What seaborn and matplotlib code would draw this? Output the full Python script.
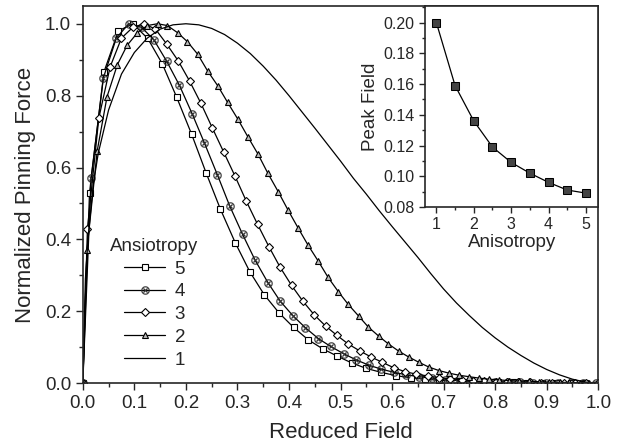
import matplotlib
matplotlib.use("Agg")
import matplotlib.pyplot as plt
import seaborn as sns
from matplotlib.ticker import MultipleLocator, FormatStrFormatter

# Data
# Anisotropy 5 (open squares)
x5 = [0.0, 0.013, 0.041, 0.069, 0.097, 0.126, 0.154, 0.182, 0.211, 0.239, 0.267, 0.296,
      0.324, 0.352, 0.381, 0.409, 0.437, 0.466, 0.494, 0.522, 0.550, 0.579, 0.607, 0.636,
      0.664, 0.692, 0.720, 0.749, 0.777, 0.805, 0.834, 0.862, 0.890, 0.919, 0.947, 0.975]
y5 = [0.0, 0.53, 0.866, 0.98, 1.0, 0.959, 0.889, 0.796, 0.693, 0.586, 0.484, 0.390,
      0.310, 0.246, 0.195, 0.155, 0.121, 0.095, 0.075, 0.056, 0.041, 0.030, 0.021, 0.015,
      0.011, 0.008, 0.006, 0.004, 0.003, 0.002, 0.002, 0.001, 0.001, 0.001, 0.0, 0.0]

# Anisotropy 4 (circled cross)
x4 = [0.0, 0.016, 0.040, 0.065, 0.089, 0.114, 0.138, 0.163, 0.187, 0.212, 0.236, 0.261,
      0.285, 0.310, 0.334, 0.359, 0.383, 0.408, 0.432, 0.457, 0.481, 0.506, 0.530, 0.555,
      0.579, 0.604, 0.628, 0.653, 0.677, 0.702, 0.726, 0.751, 0.775, 0.800, 0.824, 0.849,
      0.873, 0.898, 0.922, 0.947, 0.971, 0.996]
y4 = [0.0, 0.57, 0.85, 0.96, 1.0, 0.99, 0.955, 0.895, 0.83, 0.75, 0.668, 0.58,
      0.493, 0.414, 0.343, 0.280, 0.228, 0.187, 0.154, 0.124, 0.102, 0.082, 0.065, 0.050,
      0.039, 0.030, 0.023, 0.018, 0.013, 0.010, 0.007, 0.005, 0.004, 0.003, 0.002, 0.002,
      0.001, 0.001, 0.001, 0.0, 0.0, 0.0]

# Anisotropy 3 (open diamonds)
x3 = [0.0, 0.009, 0.031, 0.053, 0.075, 0.097, 0.119, 0.141, 0.163, 0.185, 0.207, 0.229,
      0.251, 0.273, 0.295, 0.317, 0.339, 0.361, 0.383, 0.405, 0.427, 0.449, 0.471, 0.493,
      0.515, 0.537, 0.559, 0.581, 0.603, 0.625, 0.647, 0.669, 0.691, 0.713, 0.735, 0.757,
      0.779, 0.801, 0.823, 0.845, 0.867, 0.889, 0.911, 0.933, 0.955, 0.977, 0.999]
y3 = [0.0, 0.43, 0.737, 0.88, 0.96, 0.99, 1.0, 0.985, 0.943, 0.897, 0.841, 0.779,
      0.711, 0.644, 0.577, 0.507, 0.442, 0.380, 0.322, 0.272, 0.228, 0.190, 0.159, 0.133,
      0.109, 0.090, 0.073, 0.058, 0.043, 0.032, 0.025, 0.020, 0.015, 0.012, 0.009, 0.007,
      0.005, 0.004, 0.003, 0.002, 0.002, 0.001, 0.001, 0.001, 0.0, 0.0, 0.0]

# Anisotropy 2 (triangles)
x2 = [0.0, 0.008, 0.028, 0.047, 0.067, 0.086, 0.106, 0.125, 0.145, 0.164, 0.184, 0.203,
      0.223, 0.242, 0.262, 0.281, 0.301, 0.320, 0.340, 0.359, 0.379, 0.398, 0.418, 0.437,
      0.457, 0.476, 0.496, 0.515, 0.535, 0.554, 0.574, 0.593, 0.613, 0.632, 0.652, 0.671,
      0.691, 0.710, 0.730, 0.749, 0.769, 0.788, 0.808, 0.827, 0.847, 0.866, 0.886, 0.905,
      0.925, 0.944, 0.964, 0.983]
y2 = [0.0, 0.37, 0.647, 0.797, 0.886, 0.94, 0.975, 0.995, 1.0, 0.995, 0.975, 0.95,
      0.915, 0.869, 0.827, 0.781, 0.734, 0.686, 0.637, 0.584, 0.533, 0.482, 0.431, 0.384,
      0.339, 0.294, 0.254, 0.219, 0.187, 0.156, 0.131, 0.109, 0.089, 0.073, 0.058, 0.045,
      0.035, 0.028, 0.022, 0.018, 0.014, 0.011, 0.009, 0.007, 0.006, 0.005, 0.004, 0.003,
      0.002, 0.002, 0.001, 0.001]

# Anisotropy 1 (plain line)
x1 = [0.0, 0.005, 0.01, 0.02, 0.03, 0.05, 0.075, 0.1, 0.125, 0.15, 0.175, 0.2,
      0.225, 0.25, 0.275, 0.3, 0.325, 0.35, 0.375, 0.4, 0.425, 0.45, 0.475, 0.5,
      0.525, 0.55, 0.575, 0.6, 0.625, 0.65, 0.675, 0.7, 0.725, 0.75, 0.775, 0.8,
      0.825, 0.85, 0.875, 0.9, 0.925, 0.95, 0.975, 1.0]
y1 = [0.0, 0.29, 0.40, 0.55, 0.64, 0.76, 0.86, 0.92, 0.96, 0.985, 0.997, 1.0,
      0.997, 0.987, 0.97, 0.946, 0.917, 0.882, 0.843, 0.80, 0.755, 0.71, 0.664, 0.618,
      0.57, 0.526, 0.48, 0.436, 0.393, 0.35, 0.305, 0.262, 0.223, 0.188, 0.155, 0.126,
      0.10, 0.077, 0.056, 0.038, 0.023, 0.011, 0.003, 0.0]

# Inset: peak field vs anisotropy
anisotropy = [1, 1.5, 2, 2.5, 3, 3.5, 4, 4.5, 5]
peak_field = [0.200, 0.159, 0.136, 0.119, 0.109, 0.102, 0.096, 0.091, 0.089]

sns.set_style("ticks")
plt.rcParams["font.family"] = ["Liberation Sans", "DejaVu Sans"]
plt.rcParams["xtick.direction"] = "out"
plt.rcParams["ytick.direction"] = "out"

fig = plt.figure(figsize=(6.18, 4.45), dpi=100)
ax = fig.add_axes([0.134, 0.139, 0.834, 0.848])

series = [
    ("5", x5, y5, dict(marker="s", markersize=5, markerfacecolor="white", markeredgewidth=0.8)),
    ("4", x4, y4, dict(marker="$\\otimes$", markersize=6, markerfacecolor="#333333",
                       markeredgewidth=0.1)),
    ("3", x3, y3, dict(marker="D", markersize=4.5, markerfacecolor="white", markeredgewidth=0.8)),
    ("2", x2, y2, dict(marker="^", markersize=4.5, markerfacecolor="#bbbbbb", markeredgewidth=0.8)),
    ("1", x1, y1, dict(marker=None)),
]
for name, xs, ys, mk in series:
    sns.lineplot(x=xs, y=ys, ax=ax, color="black", linewidth=0.9,
                 markeredgecolor="black", estimator=None, sort=False,
                 label=name, **mk)

ax.set_xlim(0, 1.0)
ax.set_ylim(0, 1.05)
ax.xaxis.set_major_locator(MultipleLocator(0.1))
ax.xaxis.set_minor_locator(MultipleLocator(0.05))
ax.yaxis.set_major_locator(MultipleLocator(0.2))
ax.yaxis.set_minor_locator(MultipleLocator(0.1))
ax.tick_params(which="major", length=5, width=1, labelsize=13.5)
ax.tick_params(which="minor", length=3, width=1)
ax.xaxis.set_major_formatter(FormatStrFormatter("%.1f"))
ax.yaxis.set_major_formatter(FormatStrFormatter("%.1f"))
for s in ax.spines.values():
    s.set_linewidth(1.2)
ax.set_xlabel("Reduced Field", fontsize=16, labelpad=7)
ax.set_ylabel("Normalized Pinning Force", fontsize=16, labelpad=6)

leg = ax.legend(title="Ansiotropy", loc="upper left", bbox_to_anchor=(0.028, 0.42),
                frameon=False, fontsize=13.5, title_fontsize=13.5, handlelength=2.2,
                handletextpad=0.5, labelspacing=0.3, borderpad=0.2)

# Inset
axin = fig.add_axes([0.688, 0.535, 0.280, 0.452])
sns.lineplot(x=anisotropy, y=peak_field, ax=axin, color="black", linewidth=0.9,
             marker="s", markersize=6, markerfacecolor="#444444",
             markeredgecolor="black", estimator=None, sort=False)
axin.set_xlim(0.7, 5.33)
axin.set_ylim(0.08, 0.211)
axin.xaxis.set_major_locator(MultipleLocator(1))
axin.xaxis.set_minor_locator(MultipleLocator(0.5))
axin.yaxis.set_major_locator(MultipleLocator(0.02))
axin.yaxis.set_minor_locator(MultipleLocator(0.01))
axin.yaxis.set_major_formatter(FormatStrFormatter("%.2f"))
axin.tick_params(which="major", length=4, width=1, labelsize=11.5)
axin.tick_params(which="minor", length=2.5, width=1)
for s in axin.spines.values():
    s.set_linewidth(1.2)
axin.set_xlabel("Anisotropy", fontsize=13.5, labelpad=1)
axin.set_ylabel("Peak Field", fontsize=13.5, labelpad=3)

fig.savefig("out.png", dpi=100)
